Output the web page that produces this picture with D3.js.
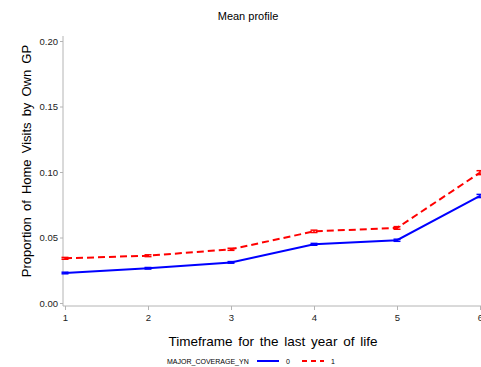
<!DOCTYPE html>
<html>
<head>
<meta charset="utf-8">
<script src="https://cdn.jsdelivr.net/npm/d3@7"></script>
<style>
  html, body { margin: 0; padding: 0; background: #fff; }
  svg { display: block; }
  text { font-family: "Liberation Sans", Arial, sans-serif; }
</style>
</head>
<body>
<div id="chart"></div>
<script>
// Mean profile of home-visit proportion by timeframe, split by coverage group
const timeframes = [1, 2, 3, 4, 5, 6];
const group0 = [0.0229, 0.0265, 0.0310, 0.0448, 0.0479, 0.0817];
const group1 = [0.0341, 0.0361, 0.0410, 0.0547, 0.0573, 0.0995];
const err0 = [0.0006, 0.0006, 0.0006, 0.0007, 0.0008, 0.0012];
const err1 = [0.0007, 0.0007, 0.0008, 0.0009, 0.0010, 0.0015];
const yTicks = [0.00, 0.05, 0.10, 0.15, 0.20];
const groupLabels = ["0", "1"];

const W = 481, H = 367;
const svg = d3.select("#chart").append("svg").attr("width", W).attr("height", H);

const x = d3.scaleLinear().domain([1, 6]).range([65, 480]);
const y = d3.scaleLinear().domain([0, 0.2]).range([303, 41]);

const axisColor = "#b4b4b4";
const frameLeft = 63, frameTop = 36, frameBottom = 306;

// Title
svg.append("text").attr("x", 248).attr("y", 20).attr("text-anchor", "middle")
  .attr("font-size", 11).attr("fill", "#000").text("Mean profile");

// Y axis
const yAxis = d3.axisLeft(y).tickValues(yTicks).tickFormat(d3.format(".2f")).tickSize(3).tickPadding(2);
const gy = svg.append("g").attr("transform", `translate(${frameLeft},0)`).call(yAxis);
gy.select(".domain").remove();
gy.append("line").attr("x1", 0).attr("x2", 0).attr("y1", frameTop).attr("y2", frameBottom)
  .attr("stroke", axisColor);
gy.selectAll(".tick line").attr("stroke", axisColor);
gy.selectAll(".tick text").attr("font-size", 9.5).attr("fill", "#222")
  .attr("font-family", "Liberation Sans, Arial, sans-serif");

// X axis (the last tick label runs past the right edge of the canvas)
const xAxis = d3.axisBottom(x).tickValues(timeframes).tickFormat(d3.format("d")).tickSize(4).tickPadding(4);
const gx = svg.append("g").attr("transform", `translate(0,${frameBottom})`).call(xAxis);
gx.select(".domain").remove();
gx.append("line").attr("x1", frameLeft).attr("x2", W).attr("y1", 0).attr("y2", 0)
  .attr("stroke", axisColor);
gx.selectAll(".tick line").attr("stroke", axisColor);
gx.selectAll(".tick text").attr("font-size", 9.5).attr("fill", "#222")
  .attr("font-family", "Liberation Sans, Arial, sans-serif");

// Axis titles
svg.append("text")
  .attr("transform", "translate(31,161) rotate(-90)")
  .attr("text-anchor", "middle").attr("font-size", 13).attr("fill", "#000")
  .attr("word-spacing", 2.5)
  .text("Proportion of Home Visits by Own GP");
svg.append("text").attr("x", 273).attr("y", 346).attr("text-anchor", "middle")
  .attr("font-size", 13.5).attr("fill", "#000").attr("word-spacing", 2)
  .text("Timeframe for the last year of life");

// Series
const series = [
  { vals: group0, errs: err0, color: "#0000ff", dash: null },
  { vals: group1, errs: err1, color: "#ff0000", dash: "7,4" }
];
const line = d3.line().x(d => x(d.t)).y(d => y(d.v));

series.forEach(s => {
  const pts = timeframes.map((t, i) => ({ t, v: s.vals[i], e: s.errs[i] }));
  svg.append("path").datum(pts).attr("d", line)
    .attr("fill", "none").attr("stroke", s.color).attr("stroke-width", 2)
    .attr("stroke-dasharray", s.dash);
  const eb = svg.append("g").selectAll("g").data(pts).join("g");
  eb.append("line").attr("x1", d => x(d.t)).attr("x2", d => x(d.t))
    .attr("y1", d => y(d.v - d.e)).attr("y2", d => y(d.v + d.e))
    .attr("stroke", s.color).attr("stroke-width", 1.5);
  [-1, 1].forEach(sign => {
    eb.append("line").attr("x1", d => x(d.t) - 3.5).attr("x2", d => x(d.t) + 3.5)
      .attr("y1", d => y(d.v + sign * d.e)).attr("y2", d => y(d.v + sign * d.e))
      .attr("stroke", s.color).attr("stroke-width", 1.5);
  });
});

// Legend
const lg = svg.append("g");
lg.append("text").attr("x", 167).attr("y", 364).attr("font-size", 7).attr("fill", "#000")
  .text("MAJOR_COVERAGE_YN");
const lgX = [257, 302];
series.forEach((s, i) => {
  lg.append("line").attr("x1", lgX[i]).attr("x2", lgX[i] + 22).attr("y1", 361).attr("y2", 361)
    .attr("stroke", s.color).attr("stroke-width", 2).attr("stroke-dasharray", s.dash ? "5,4" : null);
  lg.append("text").attr("x", lgX[i] + 29).attr("y", 364).attr("font-size", 7).attr("fill", "#000")
    .text(groupLabels[i]);
});
</script>
</body>
</html>
